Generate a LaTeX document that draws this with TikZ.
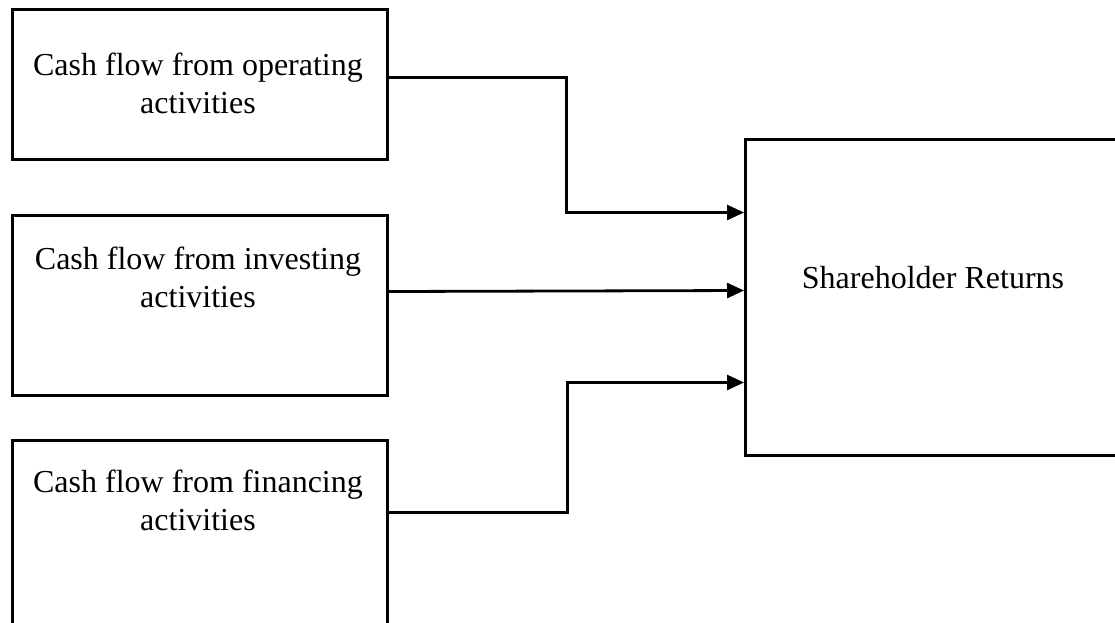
\documentclass[tikz,border=0pt]{standalone}
\usepackage{fontspec}
\setmainfont{Liberation Serif}
\usetikzlibrary{arrows.meta,calc}
\begin{document}
\begin{tikzpicture}[x=1pt, y=-1pt, line width=2.6pt,
  box/.style={draw, rectangle, inner sep=0pt, anchor=north west},
  lbl/.style={font=\fontsize{32}{38}\selectfont, align=center, anchor=base, inner sep=0pt},
  flow/.style={line width=2.8pt, -{Triangle[length=17pt,width=15pt]}}]
  \useasboundingbox (0,0) rectangle (1115,622);
  \clip (0,0) rectangle (1115,622);

  % cash-flow boxes
  \node[box, minimum width=375pt, minimum height=150pt] (op)  at (11,8)   {};
  \node[box, minimum width=375pt, minimum height=180pt] (inv) at (11,214) {};
  \node[box, minimum width=375pt, minimum height=230pt] (fin) at (11,439) {};
  % target box (runs off the right edge)
  \node[box, minimum width=420pt, minimum height=316pt] (sh)  at (744,138) {};

  % labels (anchored on the baseline of the last line)
  \node[lbl] (opt)  at (198,113) {Cash flow from operating\\activities};
  \node[lbl] (invt) at (198,307) {Cash flow from investing\\activities};
  \node[lbl] (fint) at (198,530) {Cash flow from financing\\activities};
  \node[lbl] (sht)  at (933,288) {Shareholder Returns};

  % connectors
  \coordinate (j1) at (566.5,212.5);
  \coordinate (j3) at (567.5,382.5);
  \draw[flow] (op.east |- 0,77.5) -| (j1) -- (sh.west |- j1);
  \draw[flow] (inv.east |- 0,291.5) -- (sh.west |- 0,290.5);
  \draw[flow] (fin.east |- 0,512.5) -| (j3) -- (sh.west |- j3);
\end{tikzpicture}
\end{document}
